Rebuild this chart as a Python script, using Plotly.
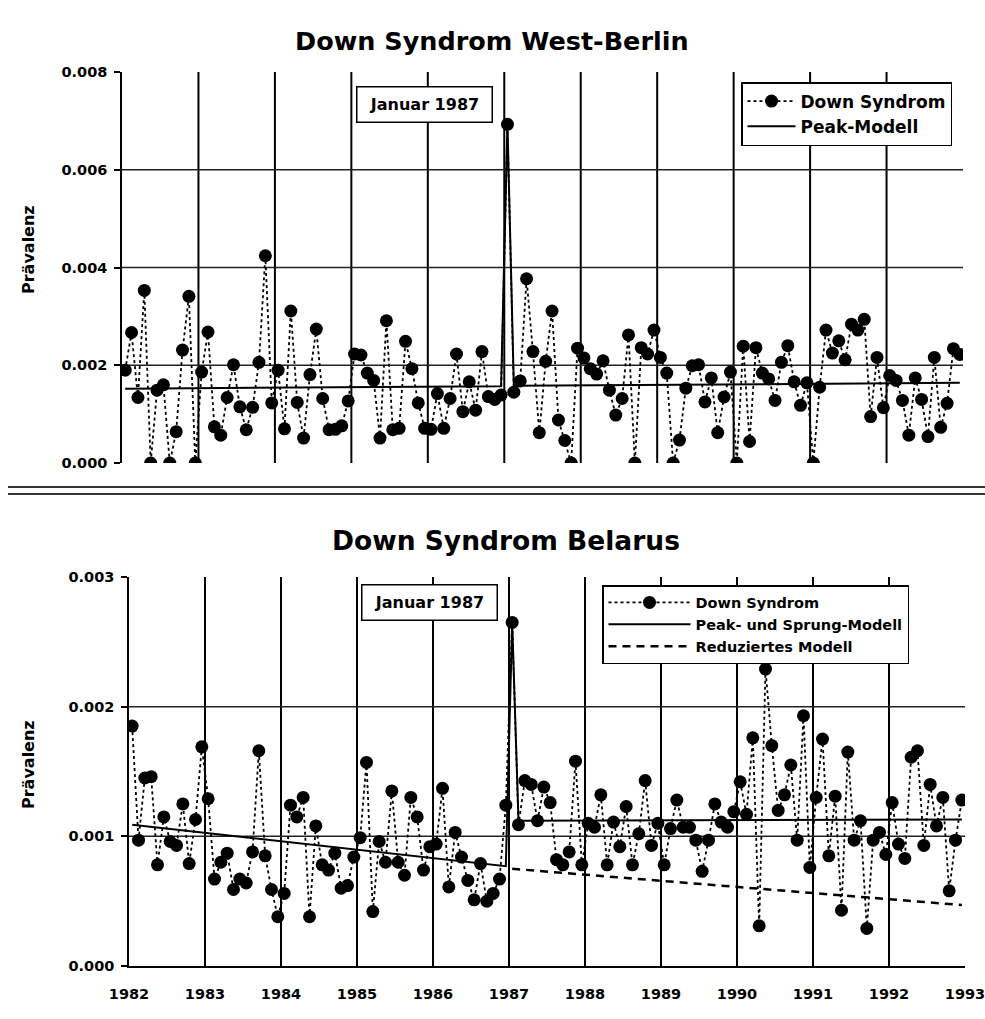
import plotly.graph_objects as go

W, H = 985, 1019
OX, OY = 0, 0  # body margin removed by post_script below
FONT = "DejaVu Sans"

start_year = 1982
n_months = 132
year_ticks = list(range(1982, 1994))
grid_years = list(range(1983, 1993))

# West-Berlin monthly prevalence, Jan 1982 .. Dec 1992
berlin_values = [
    0.00190, 0.00267, 0.00134, 0.00353, 0.00000, 0.00149, 0.00160, 0.00000, 0.00064, 0.00231, 0.00341, 0.00000,
    0.00186, 0.00268, 0.00074, 0.00057, 0.00134, 0.00201, 0.00115, 0.00068, 0.00114, 0.00206, 0.00424, 0.00123,
    0.00190, 0.00070, 0.00311, 0.00124, 0.00051, 0.00181, 0.00274, 0.00132, 0.00068, 0.00069, 0.00076, 0.00127,
    0.00223, 0.00221, 0.00184, 0.00169, 0.00051, 0.00291, 0.00068, 0.00071, 0.00249, 0.00193, 0.00123, 0.00071,
    0.00069, 0.00142, 0.00071, 0.00132, 0.00223, 0.00105, 0.00166, 0.00108, 0.00228, 0.00136, 0.00130, 0.00139,
    0.00693, 0.00145, 0.00168, 0.00377, 0.00228, 0.00062, 0.00208, 0.00311, 0.00088, 0.00046, 0.00000, 0.00235,
    0.00215, 0.00193, 0.00182, 0.00209, 0.00149, 0.00098, 0.00132, 0.00262, 0.00000, 0.00236, 0.00223, 0.00272,
    0.00216, 0.00184, 0.00000, 0.00047, 0.00153, 0.00199, 0.00201, 0.00125, 0.00174, 0.00062, 0.00135, 0.00186,
    0.00000, 0.00239, 0.00044, 0.00236, 0.00184, 0.00172, 0.00128, 0.00206, 0.00240, 0.00166, 0.00118, 0.00164,
    0.00000, 0.00155, 0.00272, 0.00225, 0.00250, 0.00211, 0.00284, 0.00272, 0.00294, 0.00095, 0.00216, 0.00113,
    0.00179, 0.00169, 0.00128, 0.00057, 0.00174, 0.00130, 0.00054, 0.00216, 0.00073, 0.00122, 0.00234, 0.00222,
]

# Belarus monthly prevalence, Jan 1982 .. Dec 1992
belarus_values = [
    0.00185, 0.00097, 0.00145, 0.00146, 0.00078, 0.00115, 0.00096, 0.00093, 0.00125, 0.00079, 0.00113, 0.00169,
    0.00129, 0.00067, 0.00080, 0.00087, 0.00059, 0.00067, 0.00064, 0.00088, 0.00166, 0.00085, 0.00059, 0.00038,
    0.00056, 0.00124, 0.00115, 0.00130, 0.00038, 0.00108, 0.00078, 0.00074, 0.00087, 0.00060, 0.00062, 0.00084,
    0.00099, 0.00157, 0.00042, 0.00096, 0.00080, 0.00135, 0.00080, 0.00070, 0.00130, 0.00115, 0.00074, 0.00092,
    0.00094, 0.00137, 0.00061, 0.00103, 0.00084, 0.00066, 0.00051, 0.00079, 0.00050, 0.00056, 0.00067, 0.00124,
    0.00265, 0.00109, 0.00143, 0.00140, 0.00112, 0.00138, 0.00126, 0.00082, 0.00078, 0.00088, 0.00158, 0.00078,
    0.00110, 0.00107, 0.00132, 0.00078, 0.00111, 0.00092, 0.00123, 0.00078, 0.00102, 0.00143, 0.00093, 0.00110,
    0.00078, 0.00106, 0.00128, 0.00107, 0.00107, 0.00097, 0.00073, 0.00097, 0.00125, 0.00111, 0.00107, 0.00119,
    0.00142, 0.00117, 0.00176, 0.00031, 0.00229, 0.00170, 0.00120, 0.00132, 0.00155, 0.00097, 0.00193, 0.00076,
    0.00130, 0.00175, 0.00085, 0.00131, 0.00043, 0.00165, 0.00097, 0.00112, 0.00029, 0.00097, 0.00103, 0.00086,
    0.00126, 0.00094, 0.00083, 0.00161, 0.00166, 0.00093, 0.00140, 0.00108, 0.00130, 0.00058, 0.00097, 0.00128,
]

# model line vertices (month index, value)
berlin_model_month = [0, 59, 60, 61, 131]
berlin_model_value = [0.00152, 0.00157, 0.00693, 0.00158, 0.00164]
belarus_model_month = [0, 59, 60, 61, 131]
belarus_model_value = [0.00109, 0.00077, 0.00265, 0.00112, 0.00113]
reduced_model_month = [60, 131]
reduced_model_value = [0.00075, 0.00047]

top_yticks = [0.0, 0.002, 0.004, 0.006, 0.008]
top_ygrid = [0.002, 0.004, 0.006]
bot_yticks = [0.0, 0.001, 0.002, 0.003]
bot_ygrid = [0.001, 0.002]


def mx(idx):
    return [start_year + (i + 0.5) / 12 for i in idx]


def fx(px):
    return (px - OX) / W


def fy(py):
    return 1 - (py - OY) / H


months_all = list(range(n_months))
bold = dict(family=FONT, size=14.5, color="black", weight="bold")

fig = go.Figure()

fig.add_trace(go.Scatter(
    x=mx(berlin_model_month), y=berlin_model_value, mode="lines",
    line=dict(color="black", width=2), name="Peak-Modell",
    xaxis="x", yaxis="y", legend="legend", legendgroup="b", legendrank=2))
fig.add_trace(go.Scatter(
    x=mx(months_all), y=berlin_values, mode="lines+markers",
    line=dict(color="black", width=1.8, dash="3px,3px"),
    marker=dict(color="black", size=13), name="Down Syndrom",
    xaxis="x", yaxis="y", legend="legend", legendgroup="a", legendrank=1))

fig.add_trace(go.Scatter(
    x=mx(belarus_model_month), y=belarus_model_value, mode="lines",
    line=dict(color="black", width=2), name="Peak- und Sprung-Modell",
    xaxis="x2", yaxis="y2", legend="legend2", legendrank=2))
fig.add_trace(go.Scatter(
    x=mx(reduced_model_month), y=reduced_model_value, mode="lines",
    line=dict(color="black", width=2.5, dash="8px,6px"), name="Reduziertes Modell",
    xaxis="x2", yaxis="y2", legend="legend2", legendrank=3))
fig.add_trace(go.Scatter(
    x=mx(months_all), y=belarus_values, mode="lines+markers",
    line=dict(color="black", width=1.8, dash="3px,3px"),
    marker=dict(color="black", size=13), name="Down Syndrom",
    xaxis="x2", yaxis="y2", legend="legend2", legendrank=1))

shapes = []
for yr in grid_years:
    for xr, yr_ref in (("x", "y domain"), ("x2", "y2 domain")):
        shapes.append(dict(type="line", xref=xr, yref=yr_ref, x0=yr, x1=yr, y0=0, y1=1,
                           line=dict(color="black", width=2), layer="below"))
for gv in top_ygrid:
    shapes.append(dict(type="line", xref="x domain", yref="y", x0=0, x1=1, y0=gv, y1=gv,
                       line=dict(color="#222222", width=1.5), layer="below"))
for gv in bot_ygrid:
    shapes.append(dict(type="line", xref="x2 domain", yref="y2", x0=0, x1=1, y0=gv, y1=gv,
                       line=dict(color="#222222", width=1.5), layer="below"))
for py in (487, 494):
    shapes.append(dict(type="line", xref="paper", yref="paper", x0=fx(8), x1=1,
                       y0=fy(py), y1=fy(py), line=dict(color="#333333", width=2)))


def note(text, px, py, size, **kw):
    d = dict(text=text, xref="paper", yref="paper", x=fx(px), y=fy(py),
             xanchor="center", yanchor="middle", showarrow=False,
             font=dict(family=FONT, size=size, color="black", weight="bold"))
    d.update(kw)
    return d


annotations = [
    note("Down Syndrom West-Berlin", 492, 41, 25.5),
    note("Down Syndrom Belarus", 506, 540, 26.5),
    note("Prävalenz", 28, 250, 16, textangle=-90),
    note("Prävalenz", 28, 765, 16, textangle=-90),
    note("Januar 1987", 424, 104, 16, bgcolor="white", bordercolor="black", borderwidth=1.5,
         borderpad=5, width=124, height=24),
    note("Januar 1987", 429, 602, 16, bgcolor="white", bordercolor="black", borderwidth=1.5,
         borderpad=5, width=124, height=24),
]

fig.update_layout(
    width=W, height=H,
    margin=dict(l=0, r=0, t=0, b=0, autoexpand=False),
    paper_bgcolor="white", plot_bgcolor="rgba(0,0,0,0)",
    showlegend=True,
    xaxis=dict(domain=[fx(122), fx(963)], range=[1982, 1993], anchor="y", automargin=False,
               showgrid=False, zeroline=False, showline=False, showticklabels=False, ticks=""),
    yaxis=dict(domain=[fy(463), fy(72)], range=[0, 0.008], anchor="x", automargin=False,
               tickvals=top_yticks, ticktext=[f"{v:.3f}" for v in top_yticks],
               showgrid=False, zeroline=False, showline=True, linecolor="black", linewidth=1.5,
               ticks="outside", ticklen=6, tickwidth=1.5, tickcolor="black",
               ticklabelstandoff=4, tickfont=bold),
    xaxis2=dict(domain=[fx(129), fx(965)], range=[1982, 1993], anchor="y2", automargin=False,
                tickvals=year_ticks, ticktext=[str(y) for y in year_ticks],
                showgrid=False, zeroline=False, showline=True, linecolor="black", linewidth=1.5,
                ticks="inside", ticklen=8, tickwidth=1.5, tickcolor="black",
                ticklabelstandoff=14, tickfont=bold, ticklabeloverflow="allow"),
    yaxis2=dict(domain=[fy(966), fy(577)], range=[0, 0.003], anchor="x2", automargin=False,
                tickvals=bot_yticks, ticktext=[f"{v:.3f}" for v in bot_yticks],
                showgrid=False, zeroline=False, showline=True, linecolor="black", linewidth=1.5,
                ticks="outside", ticklen=6, tickwidth=1.5, tickcolor="black",
                ticklabelstandoff=4, tickfont=bold),
    legend=dict(x=fx(741), y=fy(82), xanchor="left", yanchor="top",
                bgcolor="white", bordercolor="black", borderwidth=1.5,
                font=dict(family=FONT, size=17, color="black", weight="bold"),
                tracegroupgap=0, itemwidth=48, traceorder="grouped"),
    legend2=dict(x=fx(602), y=fy(585), xanchor="left", yanchor="top",
                 bgcolor="white", bordercolor="black", borderwidth=1.5,
                 font=dict(family=FONT, size=14.5, color="black", weight="bold"),
                 itemwidth=82, traceorder="normal"),
    shapes=shapes,
    annotations=annotations,
)

fig.write_html("out.html",
               config={"displayModeBar": False},
               post_script="document.body.style.margin='0px';document.body.style.overflow='hidden';")
